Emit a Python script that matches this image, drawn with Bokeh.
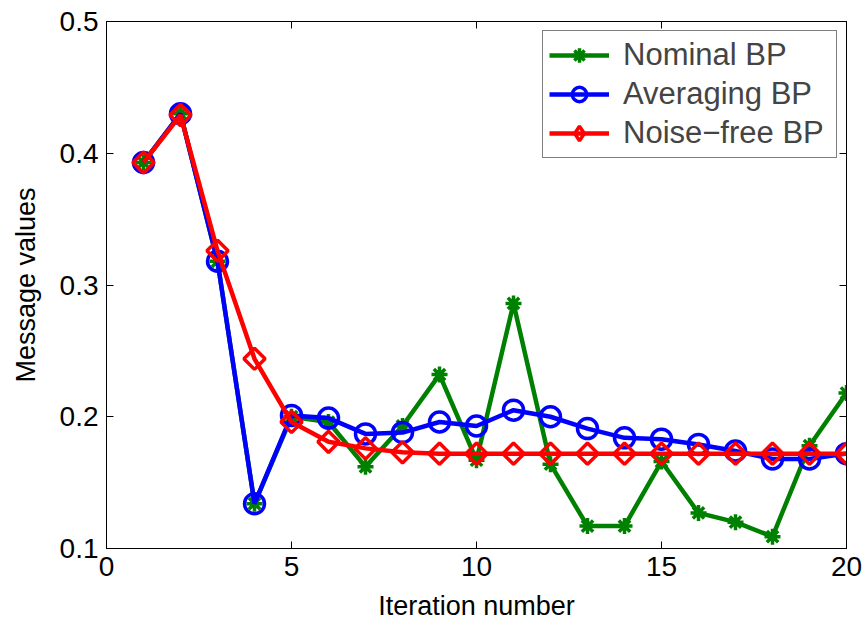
import math
from bokeh.plotting import figure
from bokeh.models import LinearAxis, Legend, LegendItem, Range1d, FixedTicker
from bokeh.embed import file_html
from bokeh.resources import INLINE

iterations = list(range(1, 21))
nominal = [0.393, 0.430, 0.318, 0.134, 0.200, 0.196, 0.162, 0.193, 0.232, 0.167,
           0.286, 0.164, 0.117, 0.117, 0.166, 0.127, 0.120, 0.109, 0.178, 0.218]
averaging = [0.393, 0.430, 0.318, 0.134, 0.201, 0.199, 0.187, 0.188, 0.196, 0.193,
             0.205, 0.200, 0.191, 0.184, 0.183, 0.179, 0.174, 0.168, 0.168, 0.172]
noise_free = [0.393, 0.429, 0.326, 0.244, 0.196, 0.181, 0.176, 0.173, 0.172, 0.172,
              0.172, 0.172, 0.172, 0.172, 0.172, 0.172, 0.172, 0.172, 0.172, 0.172]
x_ticks = [0, 5, 10, 15, 20]
y_ticks = [0.1, 0.2, 0.3, 0.4, 0.5]

FONT = "Liberation Sans"

p = figure(width=867, height=626, output_backend="svg", toolbar_location=None,
           x_range=Range1d(0, 20), y_range=Range1d(0.1, 0.5),
           min_border_left=106, min_border_right=21, min_border_top=21, min_border_bottom=78)
p.xgrid.visible = False
p.ygrid.visible = False
p.outline_line_color = "black"
p.outline_line_width = 1
p.background_fill_color = "white"
p.border_fill_color = "white"

def style_axis(ax, show_labels=True):
    ax.major_tick_in = 7
    ax.major_tick_out = 0
    ax.minor_tick_in = 0
    ax.minor_tick_out = 0
    ax.axis_line_color = "black"
    ax.major_tick_line_color = "black"
    ax.major_label_text_font = FONT
    ax.axis_label_text_font = FONT
    ax.axis_label_text_font_style = "normal"
    ax.axis_label_text_color = "black"
    if show_labels:
        ax.major_label_text_color = "black"
        ax.major_label_text_font_size = "28px"
        ax.axis_label_text_font_size = "27px"
        ax.major_label_standoff = 8
    else:
        ax.major_label_text_color = None
        ax.major_label_text_alpha = 0
        ax.major_label_text_font_size = "1px"
        ax.major_label_standoff = 0

p.xaxis.ticker = FixedTicker(ticks=x_ticks)
p.yaxis.ticker = FixedTicker(ticks=y_ticks)
p.xaxis.axis_label = "Iteration number"
p.yaxis.axis_label = "Message values"
p.xaxis.axis_label_standoff = 12
p.yaxis.axis_label_standoff = 16
style_axis(p.xaxis[0])
style_axis(p.yaxis[0])

top_ax = LinearAxis(ticker=FixedTicker(ticks=x_ticks))
right_ax = LinearAxis(ticker=FixedTicker(ticks=y_ticks))
style_axis(top_ax, False)
style_axis(right_ax, False)
p.add_layout(top_ax, "above")
p.add_layout(right_ax, "right")

GREEN = "#008000"
BLUE = "#0000FF"
RED = "#FF0000"

l1 = p.line(iterations, nominal, line_color=GREEN, line_width=4.5)
m1 = p.scatter(iterations, nominal, marker="asterisk", size=16, line_color=GREEN, line_width=3.5)
l2 = p.line(iterations, averaging, line_color=BLUE, line_width=4.5)
m2 = p.scatter(iterations, averaging, marker="circle", size=20, line_color=BLUE,
               fill_color=None, line_width=3.5)
l3 = p.line(iterations, noise_free, line_color=RED, line_width=4.5)
m3 = p.scatter(iterations, noise_free, marker="square", angle=math.pi / 4, size=15,
               line_color=RED, fill_color=None, line_width=3.5)
# legend key for the diamond marker (zero size in the plot itself)
m3_key = p.scatter(iterations, noise_free, marker="diamond", size=0, line_color=RED,
                   fill_color=None, line_width=3.5)

legend = Legend(items=[
    LegendItem(label="Nominal BP", renderers=[l1, m1]),
    LegendItem(label="Averaging BP", renderers=[l2, m2]),
    LegendItem(label="Noise\u2212free BP", renderers=[l3, m3_key]),
], location=(436, 390))
legend.label_text_font = FONT
legend.label_text_font_size = "31px"
legend.label_height = 36
legend.label_width = 207
legend.glyph_width = 60
legend.glyph_height = 36
legend.spacing = 3
legend.padding = 6
legend.margin = 0
legend.label_standoff = 14
legend.border_line_color = "black"
legend.border_line_width = 1
legend.background_fill_color = "white"
legend.background_fill_alpha = 1
p.add_layout(legend)

open("out.html", "w").write(file_html(p, INLINE))
